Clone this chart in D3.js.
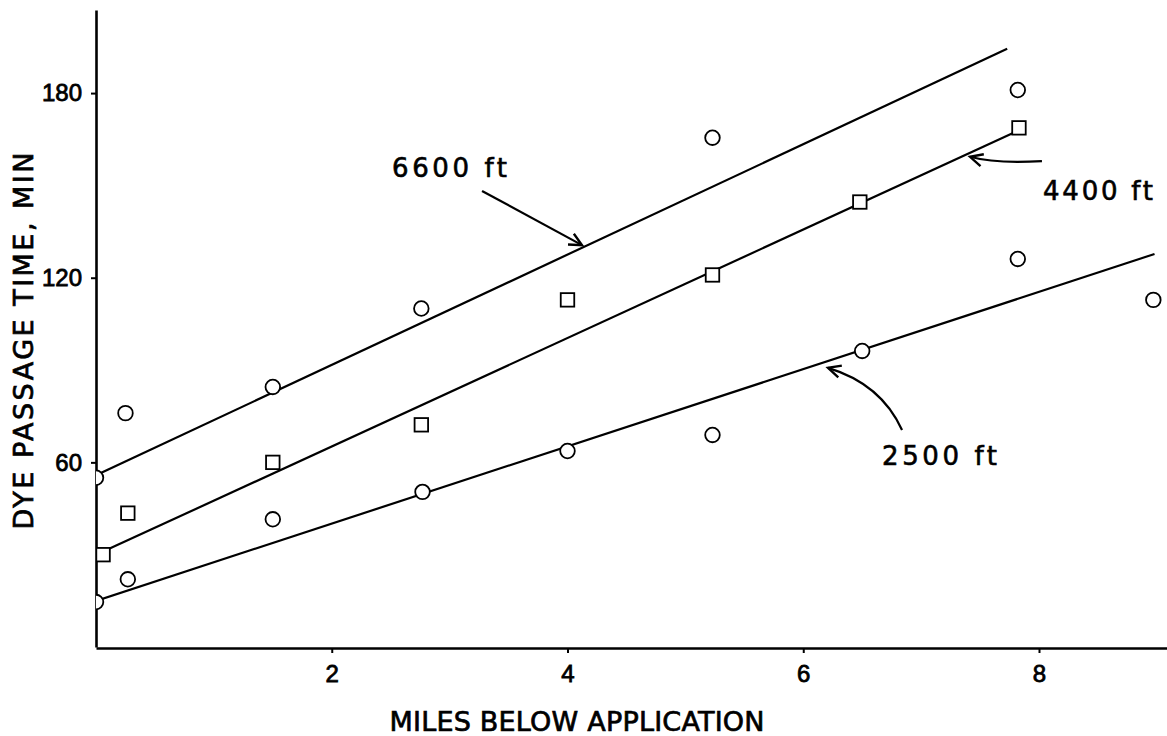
<!DOCTYPE html>
<html><head><meta charset="utf-8">
<script src="https://cdn.jsdelivr.net/npm/d3@7"></script>
<style>
body{margin:0;background:#fff}
svg{display:block}
text{font-family:"DejaVu Sans",Arial,sans-serif;fill:#000}
</style>
</head><body><svg id="c" width="1167" height="736"></svg>
<script>
// ---- data ----
const xTicks = [2, 4, 6, 8];
const yTicks = [60, 120, 180];
const xTitle = "MILES BELOW APPLICATION";
const yTitle = "DYE PASSAGE TIME, MIN";

const circles6600X = [0, 0.25, 1.5, 2.76, 5.23, 7.82];
const circles6600Y = [55, 76, 84.5, 110, 165.5, 181];
const squares4400X = [0.06, 0.27, 1.5, 2.76, 4.0, 5.23, 6.48, 7.83];
const squares4400Y = [30, 43.5, 60, 72.2, 112.8, 120.9, 144.6, 168.7];
const circles2500X = [0, 0.27, 1.5, 2.77, 4.0, 5.23, 6.5, 7.82, 8.97];
const circles2500Y = [14.6, 22, 41.5, 50.4, 63.7, 68.9, 96.2, 126.1, 112.8];

const fit6600 = [[0, 55.8], [7.73, 194.4]];
const fit4400 = [[0.06, 31], [7.78, 167]];
const fit2500 = [[0, 15], [8.98, 127.7]];

const labelNames = ["6600 ft", "4400 ft", "2500 ft"];
const labelX = [2.511, 8.034, 6.668];
const labelY = [152.7, 145.3, 59.1];
// arrows: start, control, end (data coords)
const arrowStart = [[3.275, 148.2], [8.025, 157.9], [6.838, 70.5]];
const arrowCtrl  = [null, [7.63, 157.0], [6.66, 85.5]];
const arrowEnd   = [[4.123, 130.6], [7.415, 159.3], [6.21, 90.7]];

// ---- chart ----
const W = 1167, H = 736;
const svg = d3.select("#c");
const x = d3.scaleLinear().domain([0, 9.09]).range([96, 96 + 9.09 * 117.875]);
const y = d3.scaleLinear().domain([0, 207]).range([647, 10]);

svg.append("defs").append("clipPath").attr("id", "plot")
  .append("rect").attr("x", 96).attr("y", 0).attr("width", W - 96).attr("height", 648);

// axes
const yAxis = svg.append("g").attr("transform", "translate(96,0)")
  .call(d3.axisLeft(y).tickValues(yTicks).tickSize(5).tickSizeOuter(0).tickPadding(9).tickFormat(d3.format("d")));
const xAxis = svg.append("g").attr("transform", "translate(0,648)")
  .call(d3.axisBottom(x).tickValues(xTicks).tickSize(5).tickSizeOuter(0).tickPadding(12).tickFormat(d3.format("d")));
[yAxis, xAxis].forEach(g => {
  g.attr("font-size", 24).attr("font-family", '"Liberation Sans",Arial,sans-serif');
  g.select(".domain").attr("stroke", "#000").attr("stroke-width", 2.6);
  g.selectAll(".tick line").attr("stroke", "#000").attr("stroke-width", 2);
  g.selectAll(".tick text").attr("font-size", 24).attr("fill", "#000")
    .attr("stroke", "#000").attr("stroke-width", 0.8)
    .style("font-family", '"Liberation Sans",Arial,sans-serif');
});

// titles
svg.append("text").attr("transform", "translate(33,341) rotate(-90)")
  .attr("text-anchor", "middle").attr("font-size", 27)
  .attr("stroke", "#000").attr("stroke-width", 0.7)
  .attr("textLength", 377).attr("lengthAdjust", "spacing").text(yTitle);
svg.append("text").attr("x", 577).attr("y", 731)
  .attr("text-anchor", "middle").attr("font-size", 27)
  .attr("stroke", "#000").attr("stroke-width", 0.7)
  .attr("textLength", 375).attr("lengthAdjust", "spacing").text(xTitle);

const plot = svg.append("g").attr("clip-path", "url(#plot)");

// fitted lines
const line = d3.line().x(d => x(d[0])).y(d => y(d[1]));
[fit6600, fit4400, fit2500].forEach(f => {
  plot.append("path").attr("d", line(f)).attr("fill", "none")
    .attr("stroke", "#000").attr("stroke-width", 2.2);
});

// markers
const circ = d3.zip(circles6600X, circles6600Y).concat(d3.zip(circles2500X, circles2500Y));
plot.selectAll("circle.pt").data(circ).join("circle")
  .attr("cx", d => x(d[0])).attr("cy", d => y(d[1])).attr("r", 7.3)
  .attr("fill", "#fff").attr("stroke", "#000").attr("stroke-width", 1.8);
const sq = d3.zip(squares4400X, squares4400Y);
const s = 13.5;
plot.selectAll("rect.pt").data(sq).join("rect")
  .attr("x", d => x(d[0]) - s / 2).attr("y", d => y(d[1]) - s / 2)
  .attr("width", s).attr("height", s)
  .attr("fill", "#fff").attr("stroke", "#000").attr("stroke-width", 1.8);

// annotation labels
const labelWidths = [115, 110, 115];
labelNames.forEach((t, i) => {
  svg.append("text").attr("x", x(labelX[i])).attr("y", y(labelY[i]))
    .attr("font-size", 26).attr("textLength", labelWidths[i]).attr("lengthAdjust", "spacing")
    .attr("stroke", "#000").attr("stroke-width", 0.6).text(t);
});

// arrows
arrowStart.forEach((st, i) => {
  const p0 = [x(st[0]), y(st[1])];
  const p2 = [x(arrowEnd[i][0]), y(arrowEnd[i][1])];
  const c = arrowCtrl[i] ? [x(arrowCtrl[i][0]), y(arrowCtrl[i][1])] : null;
  const path = d3.path();
  path.moveTo(p0[0], p0[1]);
  if (c) path.quadraticCurveTo(c[0], c[1], p2[0], p2[1]);
  else path.lineTo(p2[0], p2[1]);
  svg.append("path").attr("d", path.toString()).attr("fill", "none")
    .attr("stroke", "#000").attr("stroke-width", 2.2);
  const from = c || p0;
  const ang = Math.atan2(from[1] - p2[1], from[0] - p2[0]);
  const L = 14, a = 26 * Math.PI / 180;
  const hp = d3.path();
  hp.moveTo(p2[0] + L * Math.cos(ang + a), p2[1] + L * Math.sin(ang + a));
  hp.lineTo(p2[0], p2[1]);
  hp.lineTo(p2[0] + L * Math.cos(ang - a), p2[1] + L * Math.sin(ang - a));
  svg.append("path").attr("d", hp.toString()).attr("fill", "none")
    .attr("stroke", "#000").attr("stroke-width", 2.4).attr("stroke-linejoin", "miter");
});
</script>
</body></html>
